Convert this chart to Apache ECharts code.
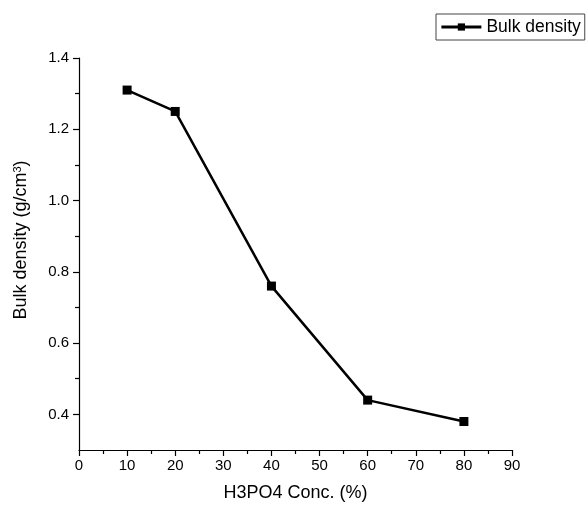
<!DOCTYPE html>
<html>
<head>
<meta charset="utf-8">
<script src="https://cdn.jsdelivr.net/npm/echarts@6/dist/echarts.min.js"></script>
<style>
html,body{margin:0;padding:0;background:#fff;}
#chart{width:586px;height:511px;}
</style>
</head>
<body>
<div id="chart"></div>
<script>
const xValues = [10, 20, 40, 60, 80];
const bulkDensity = [1.31, 1.25, 0.76, 0.44, 0.38];
const yMajorTicks = [0.4, 0.6, 0.8, 1.0, 1.2, 1.4];
const yMinorTicks = [0.5, 0.7, 0.9, 1.1, 1.3];
const seriesName = 'Bulk density';

const font = 'Liberation Sans, Arial, sans-serif';
const chart = echarts.init(document.getElementById('chart'), null, {renderer: 'canvas'});
const data = xValues.map((x, i) => [x, bulkDensity[i]]);

chart.setOption({
  animation: false,
  backgroundColor: '#fff',
  textStyle: {fontFamily: font},
  grid: {left: 79, right: 74, top: 58, bottom: 61, containLabel: false},
  legend: {
    left: 436, top: 14,
    data: [seriesName],
    borderColor: '#444', borderWidth: 1, borderRadius: 0,
    padding: [4, 4, 4, 4],
    itemWidth: 40, itemHeight: 9, itemGap: 4,
    lineStyle: {width: 2.8, color: '#000'},
    textStyle: {fontFamily: font, fontSize: 17.5, color: '#000', padding: [0, 0, 0, 0]}
  },
  xAxis: {
    type: 'value', min: 0, max: 90, interval: 10,
    name: 'H3PO4 Conc. (%)', nameLocation: 'middle', nameGap: 34,
    nameTextStyle: {fontFamily: font, fontSize: 18, color: '#000'},
    axisLine: {show: true, onZero: false, lineStyle: {color: '#000', width: 1.2}},
    axisTick: {show: true, inside: false, length: 6, lineStyle: {color: '#000', width: 1.2}},
    minorTick: {show: true, splitNumber: 2, length: 4, lineStyle: {color: '#000', width: 1.2}},
    axisLabel: {fontFamily: font, fontSize: 15, color: '#000', margin: 8},
    splitLine: {show: false}, minorSplitLine: {show: false}
  },
  yAxis: [{
    type: 'value', min: 0.3, max: 1.4,
    name: 'Bulk density (g/cm{sup|3})', nameLocation: 'middle', nameGap: 48, nameRotate: 90,
    nameTextStyle: {fontFamily: font, fontSize: 18, color: '#000', padding: [0, 0, 0, 28],
      rich: {sup: {fontFamily: font, fontSize: 11, color: '#000', verticalAlign: 'top', padding: [0, 0, 8, 0]}}},
    axisLine: {show: true, onZero: false, lineStyle: {color: '#000', width: 1.2}},
    axisTick: {show: true, inside: false, length: 6, customValues: yMajorTicks, lineStyle: {color: '#000', width: 1.2}},
    axisLabel: {fontFamily: font, fontSize: 15, color: '#000', margin: 10, customValues: yMajorTicks,
      formatter: v => v.toFixed(1)},
    splitLine: {show: false}
  }, {
    type: 'value', min: 0.3, max: 1.4, position: 'left',
    axisLine: {show: false},
    axisTick: {show: true, inside: false, length: 4, customValues: yMinorTicks, lineStyle: {color: '#000', width: 1.2}},
    axisLabel: {show: false},
    splitLine: {show: false}
  }],
  series: [{
    name: seriesName, type: 'line', data: data, yAxisIndex: 0,
    symbol: 'rect', symbolSize: 9,
    lineStyle: {color: '#000', width: 2.5},
    itemStyle: {color: '#000'}
  }]
});
</script>
</body>
</html>
